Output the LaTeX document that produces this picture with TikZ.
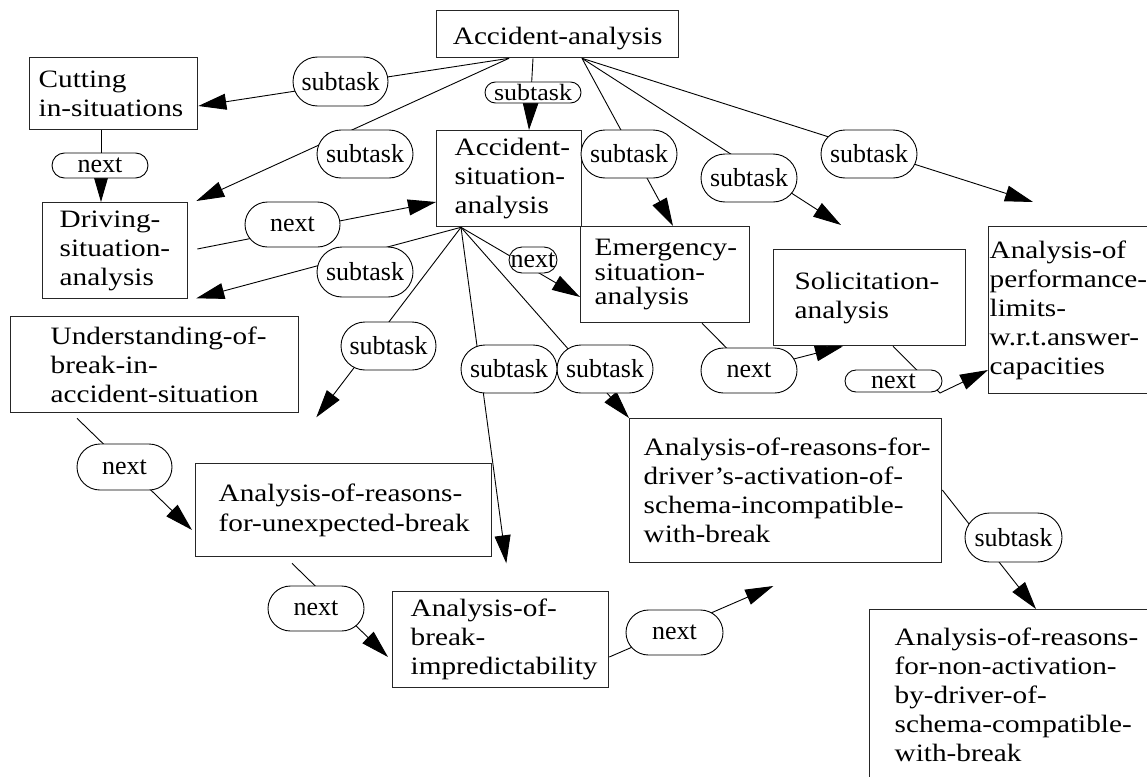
\documentclass[tikz,border=0pt]{standalone}
\usepackage{fontspec}
\usepackage{graphicx}
\setmainfont{Liberation Serif}
\newfontfamily\boxfont{Liberation Serif}[FakeStretch=1.17,Ligatures=TeX]
\newfontfamily\bubfont{Liberation Serif}
\usetikzlibrary{arrows.meta,calc}
\pgfdeclarelayer{bg}
\pgfsetlayers{bg,main}
\begin{document}
\begin{tikzpicture}[x=1pt,y=-1pt,
  box/.style={draw=black!85, line width=1.3pt, fill=white, anchor=north west, align=left,
    inner ysep=0pt, font={\boxfont\fontsize{25pt}{29pt}\selectfont},
    execute at begin node={\exhyphenpenalty=10000\hyphenpenalty=10000}},
  bub/.style 2 args={draw, line width=0.9pt, fill=white, inner sep=0pt,
    font={\bubfont\fontsize{26pt}{28pt}\selectfont},
    minimum width=#1, minimum height=#2, rounded corners=#2/2},
  arr/.style={line width=0.9pt, -{Triangle[length=28pt,width=16pt]}}
]
\useasboundingbox (0,0) rectangle (1147,776);
\clip (0,0) rectangle (1147,776);

% ---- boxes ----
\node[box, text width=222pt, inner xsep=10pt, minimum height=47pt, align=center, text height=20pt, text depth=0pt] (aa) at (436,10) {Accident-analysis};
\node[box, text width=150pt, inner xsep=9pt, minimum height=72pt] (cut) at (29,57) {Cutting\\in-situations};
\node[box, text width=111pt, inner xsep=17pt, minimum height=96pt] (drv) at (42,202) {Driving-\\situation-\\analysis};
\node[box, text width=109pt, inner xsep=18pt, minimum height=96pt] (asa) at (436,130) {Accident-\\situation-\\analysis};
\node[box, text width=141pt, inner xsep=14pt, minimum height=96pt, font={\boxfont\fontsize{25pt}{24.5pt}\selectfont}] (esa) at (580,226) {Emergency-\\situation-\\analysis};
\node[box, text width=150pt, inner xsep=21pt, minimum height=96pt] (sol) at (773,249) {Solicitation-\\analysis};
\node[box, text width=170pt, inner xsep=1pt, minimum height=167pt] (perf) at (988,226) {Analysis-of\\performance-\\limits-\\w.r.t.answer-\\capacities};
\node[box, text width=208pt, inner xsep=40pt, minimum height=96pt] (und) at (10,316) {Understanding-of-\\break-in-\\accident-situation};
\node[box, text width=250pt, inner xsep=23pt, minimum height=93pt, font={\boxfont\fontsize{25pt}{30pt}\selectfont}] (unx) at (195,463) {Analysis-of-reasons-\\for-unexpected-break};
\node[box, text width=180pt, inner xsep=18pt, minimum height=96pt] (imp) at (392,591) {Analysis-of-\\break-\\impredictability};
\node[box, text width=284pt, inner xsep=14pt, minimum height=144pt] (drvact) at (629,418) {Analysis-of-reasons-for-\\driver’s-activation-of-\\schema-incompatible-\\with-break};
\node[box, text width=270pt, inner xsep=25pt, minimum height=170pt] (nonact) at (869,609) {Analysis-of-reasons-\\for-non-activation-\\by-driver-of-\\schema-compatible-\\with-break};

% ---- labels ----
\node[bub={95}{49}] (s1) at (340.5,81.5) {subtask};
\node[bub={96}{21}] (s2) at (533,92.5) {\scalebox{1}[0.9]{subtask}};
\node[bub={96}{25}] (n1) at (100,165.5) {next};
\node[bub={96}{48}] (s3) at (365,154) {subtask};
\node[bub={95}{45}] (n2) at (292.5,224.5) {next};
\node[bub={96}{50}] (s4) at (365,272) {subtask};
\node[bub={48}{26}] (n3) at (533,260) {next};
\node[bub={96}{48}] (s5) at (629,154) {subtask};
\node[bub={96}{48}] (s6) at (749,178) {subtask};
\node[bub={96}{48}] (s7) at (869,154) {subtask};
\node[bub={96}{45}] (n4) at (749,370.5) {next};
\node[bub={97}{22}] (n5) at (893.5,381) {next};
\node[bub={96}{48}] (s8) at (605,369) {subtask};
\node[bub={95}{48}] (s9) at (388.5,346) {subtask};
\node[bub={96}{48}] (s10) at (509,369) {subtask};
\node[bub={95}{46}] (n6) at (124.5,467) {next};
\node[bub={97}{45}] (n7) at (674.5,632.5) {next};
\node[bub={96}{45}] (n8) at (316,608.5) {next};
\node[bub={97}{49}] (s11) at (1013.5,537.5) {subtask};

% ---- free ends ----
\coordinate (aaL) at ($(aa.south west)+(73,0)$);
\coordinate (aaM) at ($(aa.south west)+(97,0)$);
\coordinate (aaR) at ($(aa.south west)+(146,0)$);
\coordinate (asaF) at ($(asa.south west)+(25,0)$);
\coordinate (solin) at ($(sol.north west)+(68,-24)$);
\coordinate (perfin) at ($(perf.north west)+(45,-24)$);
\coordinate (undout) at ($(und.south east)+(17,4)$);
\coordinate (unxout) at ($(unx.south east)+(14,6)$);
\coordinate (n5bend) at ($(n5.center)+(46.5,12)$);
\coordinate (impout) at ($(imp.north east)+(164,-5)$);

% ---- connectors ----
\begin{pgfonlayer}{bg}
\draw[arr] (aaL) -- ($(cut.north east)+(0,49)$);
\draw[arr] (aaM) -- ($(asa.north west)+(93,0)$);
\draw[arr] (aaL) -- ($(drv.north east)+(8,-1)$);
\draw[arr] (aaR) -- ($(esa.north west)+(93,0)$);
\draw[arr] (aaR) -- (solin);
\draw[arr] (aaR) -- (perfin);
\draw[arr] ($(cut.south west)+(72,0)$) -- ($(drv.north west)+(59,0)$);
\draw[arr] ($(drv.north east)+(9,47)$) -- ($(asa.north west)+(0,72)$);
\draw[arr] (asaF) -- ($(drv.south east)+(8,-1)$);
\draw[arr] (asaF) -- ($(esa.north west)+(0,71)$);
\draw[arr] (asaF) -- (undout);
\draw[arr] (asaF) -- (unxout);
\draw[arr] (asaF) -- (drvact.north west);
\draw[arr] ($(esa.south west)+(122,0)$) -- (n4.center) -- ($(sol.south west)+(70,0)$);
\draw[arr] ($(sol.south west)+(120,0)$) -- (n5bend) -- ($(perf.north west)+(0,144)$);
\draw[arr] ($(und.south west)+(67,5)$) -- ($(unx.north west)+(-3,67)$);
\draw[arr] ($(unx.south west)+(97,6)$) -- ($(imp.north west)+(-4,66)$);
\draw[arr] ($(imp.north east)+(0,66)$) -- (impout);
\draw[arr] ($(drvact.north east)+(0,72)$) -- ($(nonact.north west)+(167,0)$);
\end{pgfonlayer}
\end{tikzpicture}
\end{document}
